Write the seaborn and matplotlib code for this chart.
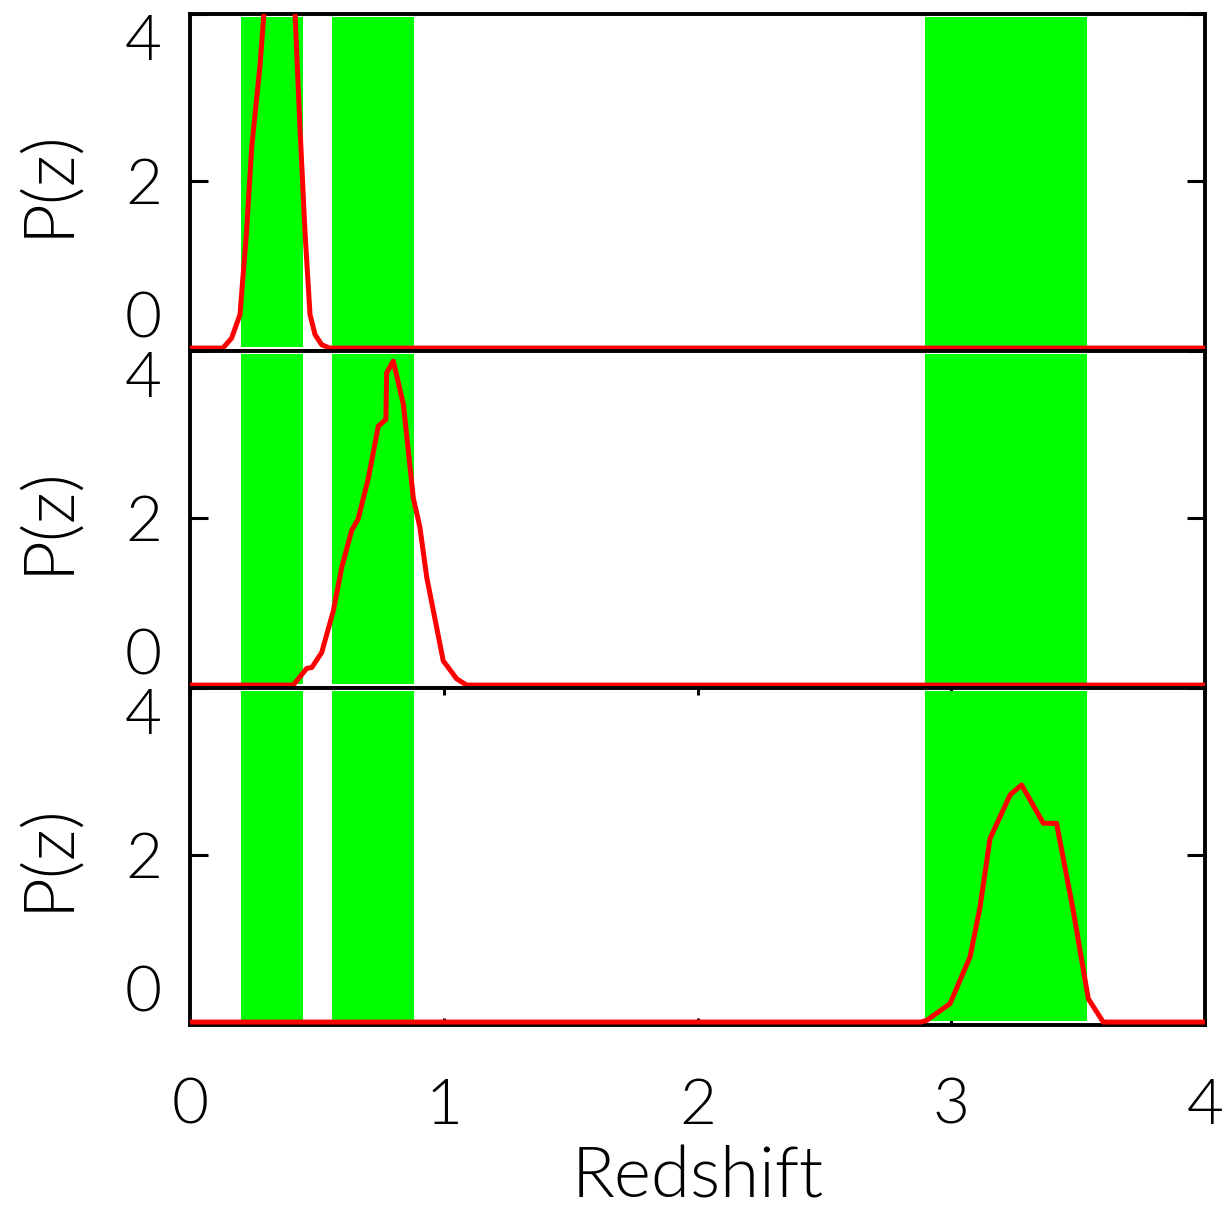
import numpy as np
import pandas as pd
import matplotlib
matplotlib.use("Agg")
import matplotlib.pyplot as plt
import seaborn as sns

# ---- data ----
z_top = [0.0, 0.13, 0.164, 0.197, 0.223, 0.243, 0.276, 0.365, 0.414, 0.434, 0.453, 0.473, 0.493, 0.519, 0.55, 4.0]
p_top = [0.0, 0.0, 0.12, 0.40, 1.40, 2.40, 3.39, 6.95, 4.0, 2.6, 1.4, 0.40, 0.16, 0.04, 0.0, 0.0]

z_mid = [0.0, 0.407, 0.46, 0.48, 0.519, 0.565, 0.598, 0.637, 0.663, 0.703, 0.742, 0.772, 0.775,
         0.801, 0.841, 0.880, 0.906, 0.933, 0.998, 1.051, 1.09, 4.0]
p_mid = [0.0, 0.0, 0.20, 0.21, 0.39, 0.89, 1.41, 1.85, 1.99, 2.48, 3.10, 3.18, 3.74,
         3.88, 3.36, 2.24, 1.89, 1.29, 0.29, 0.075, 0.0, 0.0]

z_bot = [0.0, 2.88, 2.903, 2.995, 3.074, 3.113, 3.153, 3.232, 3.277, 3.363, 3.415, 3.481, 3.540, 3.599, 4.0]
p_bot = [0.0, 0.0, 0.02, 0.22, 0.78, 1.37, 2.20, 2.72, 2.84, 2.38, 2.38, 1.33, 0.28, 0.0, 0.0]

band_lo = [0.201, 0.561, 2.897]
band_hi = [0.444, 0.883, 3.536]

y_ticks = [0, 2, 4]
x_ticks = [0, 1, 2, 3, 4]
x_label = "Redshift"
y_label = "P(z)"

# ---- style ----
sns.set_style("white")
plt.rcParams['font.family'] = ['Lato', 'DejaVu Sans']
plt.rcParams['font.weight'] = 300
plt.rcParams['axes.labelweight'] = 300
for k in ['text.color', 'axes.labelcolor', 'xtick.color', 'ytick.color']:
    plt.rcParams[k] = 'black'

fig, axes = plt.subplots(3, 1, figsize=(12.25, 12.18), dpi=100, sharex=True)
fig.subplots_adjust(left=190/1225, right=1205/1225, top=1-14/1218, bottom=1-1025/1218, hspace=0)

panels = [(z_top, p_top), (z_mid, p_mid), (z_bot, p_bot)]
fs = 46
fs_lab = 51
for i, (ax, (zz, pp)) in enumerate(zip(axes, panels)):
    for lo, hi in zip(band_lo, band_hi):
        ax.axvspan(lo, hi, ymin=0.012, ymax=0.99, color='#00ff00', lw=0, zorder=1)
    df = pd.DataFrame({"z": zz, "P": pp})
    sns.lineplot(data=df, x="z", y="P", ax=ax, color='red', linewidth=3.6, estimator=None,
                 sort=False, zorder=4)
    ax.set_xlim(0, 4)
    ax.set_ylim(-0.035, 4.0)
    ax.set_yticks(y_ticks)
    ax.set_xticks(x_ticks)
    for sp in ax.spines.values():
        sp.set_linewidth(2.8)
        sp.set_color('black')
        sp.set_zorder(3)
    ax.tick_params(axis='y', direction='in', length=13, width=2.2, left=True, right=True,
                   labelsize=fs, pad=20, colors='black')
    labs = ax.get_yticklabels()
    for lb in labs:
        lb.set_fontweight(300)
    labs[0].set_va('bottom')
    labs[2].set_va('top')
    ax.set_ylabel(y_label, fontsize=fs_lab, va='center', fontweight=300)
    ax.yaxis.set_label_coords(-0.14, 0.5)
    if i < 2:
        ax.tick_params(axis='x', length=0, labelbottom=False)
        ax.set_xlabel("")
    else:
        ax.tick_params(axis='x', direction='in', length=5, width=2.2, top=True, bottom=True,
                       labelsize=fs, pad=38, colors='black')
        for lb in ax.get_xticklabels():
            lb.set_fontweight(300)
        ax.set_xlabel(x_label, fontsize=fs_lab, labelpad=8, fontweight=300)

fig.savefig("out.png", dpi=100, facecolor='white')
